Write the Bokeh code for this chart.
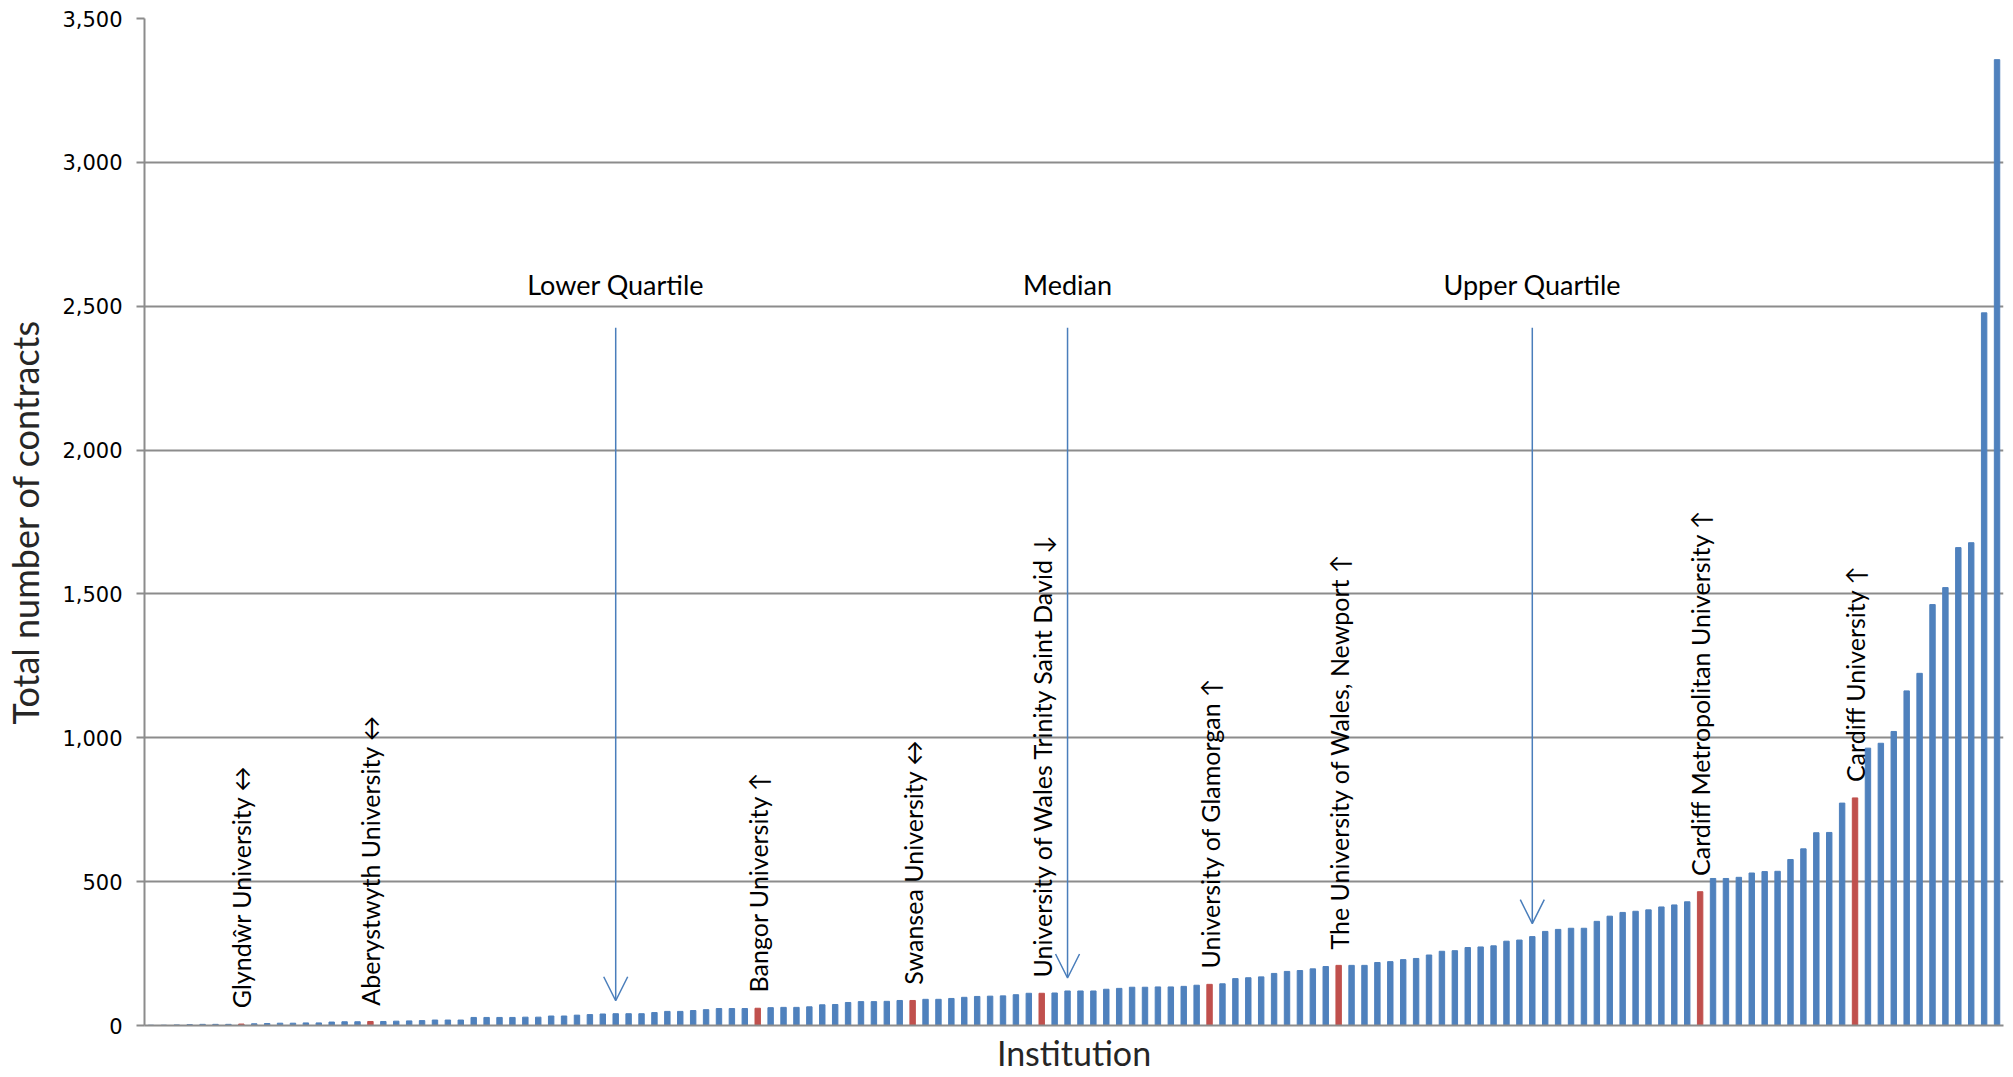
import numpy as np
from bokeh.plotting import figure
from bokeh.models import ColumnDataSource, Range1d, FixedTicker, NumeralTickFormatter, Arrow, OpenHead
from bokeh.core.properties import value
from bokeh.embed import file_html
from bokeh.resources import INLINE

# ---- data ----
contracts = [
    1, 1, 2, 3, 4, 4, 4, 5, 6, 7,
    8, 8, 9, 9, 12, 13, 13, 14, 14, 15,
    16, 17, 19, 19, 19, 28, 28, 28, 28, 29,
    29, 33, 33, 36, 38, 40, 41, 41, 41, 45,
    49, 49, 52, 55, 59, 59, 59, 60, 62, 63,
    63, 65, 72, 73, 80, 83, 83, 84, 87, 87,
    91, 91, 94, 98, 101, 102, 103, 107, 112, 112,
    113, 120, 120, 120, 126, 129, 133, 133, 134, 134,
    136, 140, 143, 145, 163, 166, 169, 181, 188, 191,
    197, 205, 209, 209, 209, 219, 222, 229, 233, 245,
    258, 260, 271, 273, 277, 293, 297, 309, 327, 334,
    338, 338, 362, 380, 393, 397, 402, 412, 419, 430,
    465, 511, 511, 515, 530, 535, 536, 577, 614, 670,
    671, 773, 791, 964, 981, 1022, 1163, 1224, 1463, 1522,
    1661, 1678, 2477, 3357,
]
highlight_ranks = [7, 17, 47, 59, 69, 82, 92, 120, 132]
highlight_names = [
    "Glyndŵr University ↔",
    "Aberystwyth University ↔",
    "Bangor University ↑",
    "Swansea University ↔",
    "University of Wales Trinity Saint David  ↓",
    "University of Glamorgan ↑",
    "The University of Wales, Newport ↑",
    "Cardiff Metropolitan University ↑",
    "Cardiff University ↑",
]
quartile_labels = ["Lower Quartile", "Median", "Upper Quartile"]
quartile_ranks = [36, 71, 107]
y_ticks = [0, 500, 1000, 1500, 2000, 2500, 3000, 3500]

BLUE = "#4f81bd"
RED = "#c0504d"
GRID = "#8c8c8c"
FONT = "Lato"

n = len(contracts)
ranks = list(range(n))
colors = [RED if r in highlight_ranks else BLUE for r in ranks]
src = ColumnDataSource(dict(x=ranks, top=contracts, color=colors))

p = figure(width=2005, height=1075, output_backend="svg", toolbar_location=None,
           x_range=Range1d(-0.5, n - 0.5), y_range=Range1d(0, 3500),
           min_border_left=143, min_border_right=2, min_border_top=18, min_border_bottom=50)
p.outline_line_color = None
p.background_fill_color = "white"

p.vbar(x="x", top="top", width=0.42, color="color", source=src)

# grid
p.xgrid.visible = False
p.ygrid.ticker = FixedTicker(ticks=y_ticks)
p.ygrid.grid_line_color = GRID
p.ygrid.grid_line_width = 2

# y axis
p.yaxis.ticker = FixedTicker(ticks=y_ticks)
p.yaxis.formatter = NumeralTickFormatter(format="0,0")
p.yaxis.axis_label = "Total number of contracts"
p.yaxis.axis_label_text_font = FONT
p.yaxis.axis_label_text_font_style = "normal"
p.yaxis.axis_label_text_font_size = "36px"
p.yaxis.axis_label_text_color = "#262626"
p.yaxis.axis_label_standoff = 12
p.yaxis.major_label_text_font = "DejaVu Sans"
p.yaxis.major_label_text_font_size = "21px"
p.yaxis.major_label_text_color = "#000000"
p.yaxis.major_label_standoff = 14
p.yaxis.major_tick_out = 8
p.yaxis.major_tick_in = 0
p.yaxis.minor_tick_line_color = None
p.yaxis.axis_line_color = GRID
p.yaxis.axis_line_width = 2
p.yaxis.major_tick_line_color = GRID
p.yaxis.major_tick_line_width = 2

# x axis
p.xaxis.ticker = FixedTicker(ticks=[])
p.xaxis.axis_label = "Institution"
p.xaxis.axis_label_text_font = FONT
p.xaxis.axis_label_text_font_style = "normal"
p.xaxis.axis_label_text_font_size = "34px"
p.xaxis.axis_label_text_color = "#262626"
p.xaxis.axis_label_standoff = 6
p.xaxis.axis_line_color = GRID
p.xaxis.axis_line_width = 2
p.xaxis.major_tick_line_color = None
p.xaxis.minor_tick_line_color = None

# institution labels (vertical)
p.text(x=highlight_ranks, y=[contracts[r] + 55 for r in highlight_ranks], text=highlight_names,
       angle=np.pi / 2, text_align="left", text_baseline="middle",
       text_font=value(FONT), text_font_size="25px", text_color="#000000")

# quartile arrows and labels
for r in quartile_ranks:
    p.add_layout(Arrow(x_start=r, y_start=2425, x_end=r, y_end=contracts[r] + 45,
                       line_color="#4a7ebb", line_width=1.5,
                       end=OpenHead(size=24, line_color="#4a7ebb", line_width=1.5)))
p.text(x=quartile_ranks, y=[2575] * len(quartile_ranks), text=quartile_labels,
       text_align="center", text_baseline="middle",
       text_font=value(FONT), text_font_size="27px", text_color="#000000")

open("out.html", "w").write(file_html(p, INLINE))
